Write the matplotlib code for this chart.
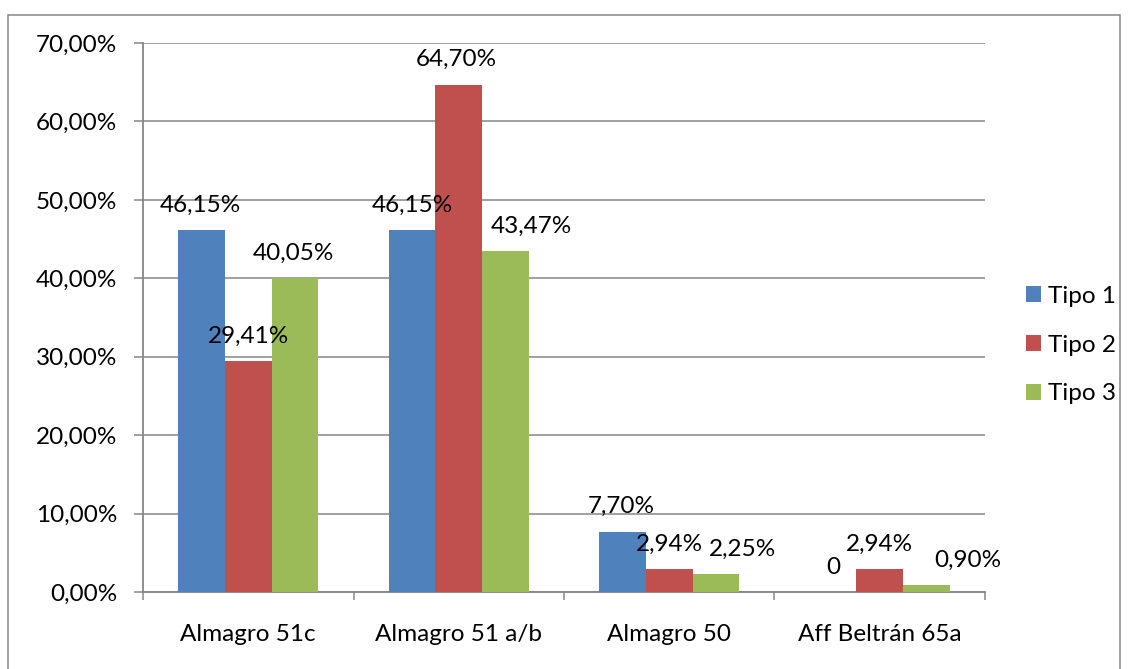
import matplotlib
matplotlib.use("Agg")
import matplotlib.pyplot as plt
from matplotlib.patches import Rectangle, Patch
from matplotlib.ticker import FuncFormatter, MultipleLocator
import numpy as np

categories = ["Almagro 51c", "Almagro 51 a/b", "Almagro 50", "Aff Beltrán 65a"]
series_names = ["Tipo 1", "Tipo 2", "Tipo 3"]
tipo1 = [46.15, 46.15, 7.70, 0.0]
tipo2 = [29.41, 64.70, 2.94, 2.94]
tipo3 = [40.05, 43.47, 2.25, 0.90]
labels1 = ["46,15%", "46,15%", "7,70%", "0"]
labels2 = ["29,41%", "64,70%", "2,94%", "2,94%"]
labels3 = ["40,05%", "43,47%", "2,25%", "0,90%"]

colors = ["#4F81BD", "#C0504D", "#9BBB59"]
# horizontal label offsets in pixels (manual placement in original)
dx1 = [-1, 0, -1, 0]
dx2 = [0, -2, 0, 0]
dx3 = [-2, 26, 26, 41]

plt.rcParams['font.family'] = ['Lato', 'DejaVu Sans']
FS = 17.5

W, H = 1129, 669
fig = plt.figure(figsize=(W / 100, H / 100), dpi=100)
ax = fig.add_axes([143 / W, 1 - 592 / H, (985 - 143) / W, (592 - 43) / H])

x = np.arange(len(categories))
bw = 1 / 4.5
series = [tipo1, tipo2, tipo3]
labs = [labels1, labels2, labels3]
dxs = [dx1, dx2, dx3]
for i, (vals, col) in enumerate(zip(series, colors)):
    pos = x + (i - 1) * bw
    ax.bar(pos, vals, width=bw, color=col, edgecolor='none', zorder=3)
    for p, v, t, d in zip(pos, vals, labs[i], dxs[i]):
        ax.annotate(t, (p, v), xytext=(d, 25), textcoords='offset pixels',
                    ha='center', va='center', fontsize=FS, color='black', zorder=4)

ax.set_xlim(-0.5, len(categories) - 0.5)
ax.set_ylim(0, 70)
ax.yaxis.set_major_locator(MultipleLocator(10))
ax.yaxis.set_major_formatter(FuncFormatter(lambda v, _: f"{v:.2f}%".replace('.', ',')))
ax.set_xticks(x)
ax.set_xticklabels(categories)
ax.set_xticks(np.arange(len(categories) + 1) - 0.5, minor=True)

gray = "#868686"
ax.grid(axis='y', color=gray, linewidth=1.1, zorder=0)
ax.set_axisbelow(True)
for s in ['top', 'right']:
    ax.spines[s].set_visible(False)
for s in ['left', 'bottom']:
    ax.spines[s].set_color(gray)
    ax.spines[s].set_linewidth(1.3)
ax.tick_params(axis='y', which='major', length=6.5, width=1.1, color=gray, pad=12, labelsize=FS)
ax.tick_params(axis='x', which='major', length=0, pad=23, labelsize=FS)
ax.tick_params(axis='x', which='minor', length=6, width=1.1, color=gray)

handles = [Patch(facecolor=c, edgecolor='none') for c in colors]
fig.legend(handles, series_names, loc='center left',
           bbox_to_anchor=(1026 / W, 1 - 345 / H), frameon=False,
           fontsize=FS, handlelength=0.6, handleheight=0.6,
           handletextpad=0.3, labelspacing=1.15, borderaxespad=0,
           borderpad=0)

border = Rectangle((8 / W, -0.05), (1120 - 8) / W, 1.05 - 15 / H,
                   transform=fig.transFigure, fill=False, edgecolor=gray,
                   linewidth=1.1)
fig.patches.append(border)

fig.savefig("out.png", dpi=100)
